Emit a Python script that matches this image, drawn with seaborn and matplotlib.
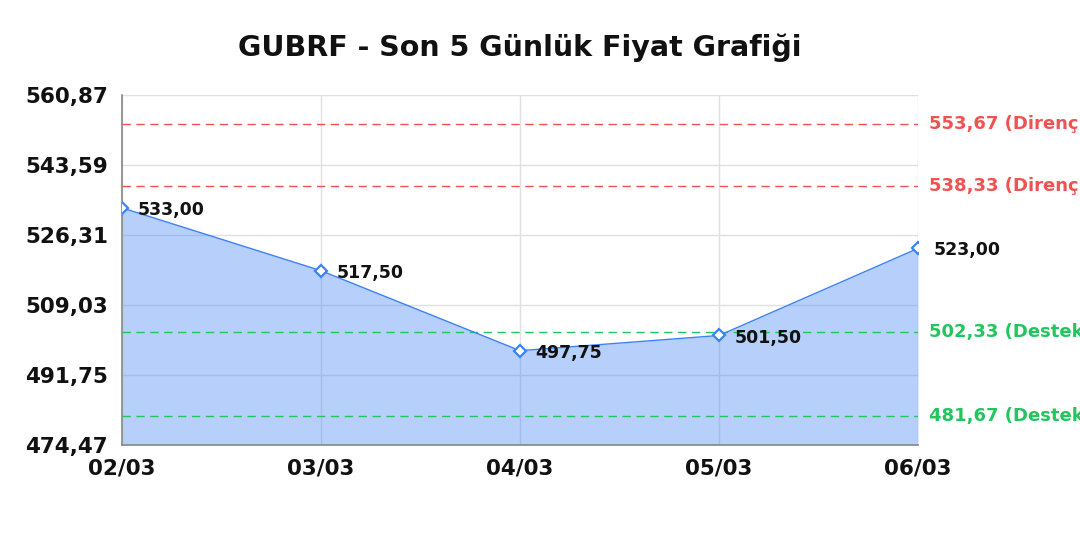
"""GUBRF son 5 gunluk fiyat grafigi."""
import matplotlib
matplotlib.use('Agg')
import matplotlib.pyplot as plt
import seaborn as sns
import pandas as pd

dates = ['02/03', '03/03', '04/03', '05/03', '06/03']
prices = [533.00, 517.50, 497.75, 501.50, 523.00]
resistance = [553.67, 538.33]
support = [502.33, 481.67]
yticks = [474.47, 491.75, 509.03, 526.31, 543.59, 560.87]


def tr(v):
    return f'{v:.2f}'.replace('.', ',')


sns.set_style('white')
plt.rcParams['font.family'] = ['DejaVu Sans']
plt.rcParams['text.color'] = '#111111'

df = pd.DataFrame({'x': range(len(dates)), 'price': prices})

fig, ax = plt.subplots(figsize=(10.8, 5.4), dpi=100)
fig.subplots_adjust(left=0.113, right=0.85, top=0.824, bottom=0.176)

ax.fill_between(df['x'], prices, yticks[0], color='#3b82f6', alpha=0.37,
                linewidth=0, zorder=2)
sns.lineplot(data=df, x='x', y='price', ax=ax, color='#3b82f6', linewidth=1,
             marker='D', markersize=6, markerfacecolor='white',
             markeredgecolor='#3b82f6', markeredgewidth=1.6, zorder=4)

# destek / direnc seviyeleri, etiketler sag kenarda (kesilmeleri referansta da var)
for v in resistance:
    ax.axhline(v, color='#f05252', linestyle=(0, (6, 4)), linewidth=1, zorder=3)
    ax.text(1.014, v, tr(v) + ' (Direnç)', transform=ax.get_yaxis_transform(),
            color='#f05252', fontsize=13, fontweight='bold', va='center', clip_on=False)
for v in support:
    ax.axhline(v, color='#22c55e', linestyle=(0, (6, 4)), linewidth=1, zorder=3)
    ax.text(1.014, v, tr(v) + ' (Destek)', transform=ax.get_yaxis_transform(),
            color='#22c55e', fontsize=13, fontweight='bold', va='center', clip_on=False)

for i, p in enumerate(prices):
    ax.annotate(tr(p), (i, p), xytext=(11, -1.5), textcoords='offset points',
                fontsize=12.5, fontweight='bold', va='center', color='#111111', zorder=5)

ax.set_xlim(0, len(dates) - 1)
ax.set_ylim(yticks[0], yticks[-1])
ax.set_xticks(range(len(dates)))
ax.set_xticklabels(dates)
ax.set_yticks(yticks)
ax.set_yticklabels([tr(t) for t in yticks])
ax.tick_params(axis='both', labelsize=15.5, length=0, labelcolor='#111111')
ax.tick_params(axis='x', pad=10)
ax.tick_params(axis='y', pad=10)
for lab in ax.get_xticklabels() + ax.get_yticklabels():
    lab.set_fontweight('bold')

ax.grid(True, color='#e0e0e0', linewidth=1, zorder=0)
ax.set_axisbelow(True)
for side in ['top', 'right']:
    ax.spines[side].set_visible(False)
for side in ['left', 'bottom']:
    ax.spines[side].set_color('#888888')
    ax.spines[side].set_linewidth(1.2)

ax.set_xlabel('')
ax.set_ylabel('')
ax.set_title('GUBRF - Son 5 Günlük Fiyat Grafiği', fontsize=20.5, fontweight='bold',
             pad=28, color='#111111')

plt.savefig('out.png', dpi=100)
